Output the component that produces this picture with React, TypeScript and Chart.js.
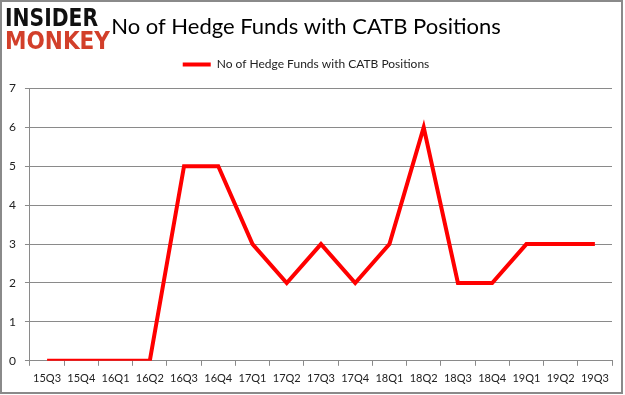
import React, { useEffect, useRef } from "react";
import { Chart, registerables } from "chart.js";

Chart.register(...registerables);

const categories = ["15Q3","15Q4","16Q1","16Q2","16Q3","16Q4","17Q1","17Q2","17Q3","17Q4","18Q1","18Q2","18Q3","18Q4","19Q1","19Q2","19Q3"];
const hedgeFunds = [0,0,0,0,5,5,3,2,3,2,3,6,2,2,3,3,3];
const seriesName = "No of Hedge Funds with CATB Positions";
const titleText = "No of Hedge Funds with CATB Positions";
const yTicks = [0,1,2,3,4,5,6,7];

const FONT = "Lato, 'Open Sans', sans-serif";
const LEGEND_GAP = 8;

const framePlugin = {
  id: "frame",
  beforeLayout(chart: any) {
    const lg = chart.legend;
    if (lg && !lg.__patched) {
      const orig = lg.fit;
      lg.fit = function () {
        orig.call(this);
        this.height += LEGEND_GAP;
      };
      lg.__patched = true;
    }
  },
  beforeDraw(chart: any) {
    const ctx = chart.ctx;
    ctx.save();
    ctx.fillStyle = "#ffffff";
    ctx.fillRect(0, 0, chart.width, chart.height);
    ctx.strokeStyle = "#8a8a8a";
    ctx.lineWidth = 2;
    ctx.strokeRect(1, 1, 621, 392);
    ctx.restore();
  },
  afterDraw(chart: any) {
    const ctx = chart.ctx;
    ctx.save();
    ctx.textBaseline = "alphabetic";
    ctx.textAlign = "left";
    ctx.font = "900 24px 'DejaVu Sans', sans-serif";
    ctx.fillStyle = "#111111";
    ctx.fillText("INSIDER", 5, 26, 93);
    ctx.fillStyle = "#d23f2a";
    ctx.fillText("MONKEY", 5, 49, 105);
    ctx.restore();
  },
};

export default function App() {
  const ref = useRef<HTMLCanvasElement | null>(null);
  useEffect(() => {
    if (!ref.current) return;
    const chart = new Chart(ref.current, {
      type: "line",
      data: {
        labels: categories,
        datasets: [
          {
            label: seriesName,
            data: hedgeFunds,
            borderColor: "#ff0000",
            backgroundColor: "#ff0000",
            borderWidth: 4,
            pointRadius: 0,
            tension: 0,
            pointStyle: "line",
          },
        ],
      },
      options: {
        responsive: false,
        animation: false,
        layout: { padding: { left: 0, right: 13, top: 0, bottom: 4 } },
        plugins: {
          title: {
            display: true,
            text: titleText,
            color: "#000000",
            font: { family: FONT, size: 22, weight: "normal" },
            padding: { top: 14, bottom: 2 },
          },
          legend: {
            display: true,
            labels: {
              usePointStyle: true,
              pointStyleWidth: 28,
              color: "#222222",
              font: { family: FONT, size: 12 },
              padding: 16,
            },
          },
          tooltip: { enabled: false },
        },
        scales: {
          x: {
            offset: true,
            grid: {
              offset: true,
              drawOnChartArea: false,
              drawTicks: true,
              tickLength: 5,
              color: "#8a8a8a",
            },
            border: { display: true, color: "#8a8a8a", width: 1 },
            ticks: {
              color: "#222222",
              font: { family: FONT, size: 11 },
              maxRotation: 0,
              autoSkip: false,
              padding: 6,
            },
          },
          y: {
            min: 0,
            max: 7,
            afterBuildTicks: (axis: any) => {
              axis.ticks = yTicks.map((v) => ({ value: v }));
            },
            grid: { color: "#8a8a8a", tickLength: 5, lineWidth: 1 },
            border: { display: true, color: "#8a8a8a", width: 1 },
            ticks: {
              color: "#222222",
              font: { family: FONT, size: 12 },
              padding: 9,
            },
          },
        },
      },
      plugins: [framePlugin],
    } as any);
    return () => chart.destroy();
  }, []);
  return (
    <div style={{ position: "absolute", left: 0, top: 0, width: 625, height: 395 }}>
      <canvas ref={ref} width={625} height={395} style={{ display: "block" }} />
    </div>
  );
}
